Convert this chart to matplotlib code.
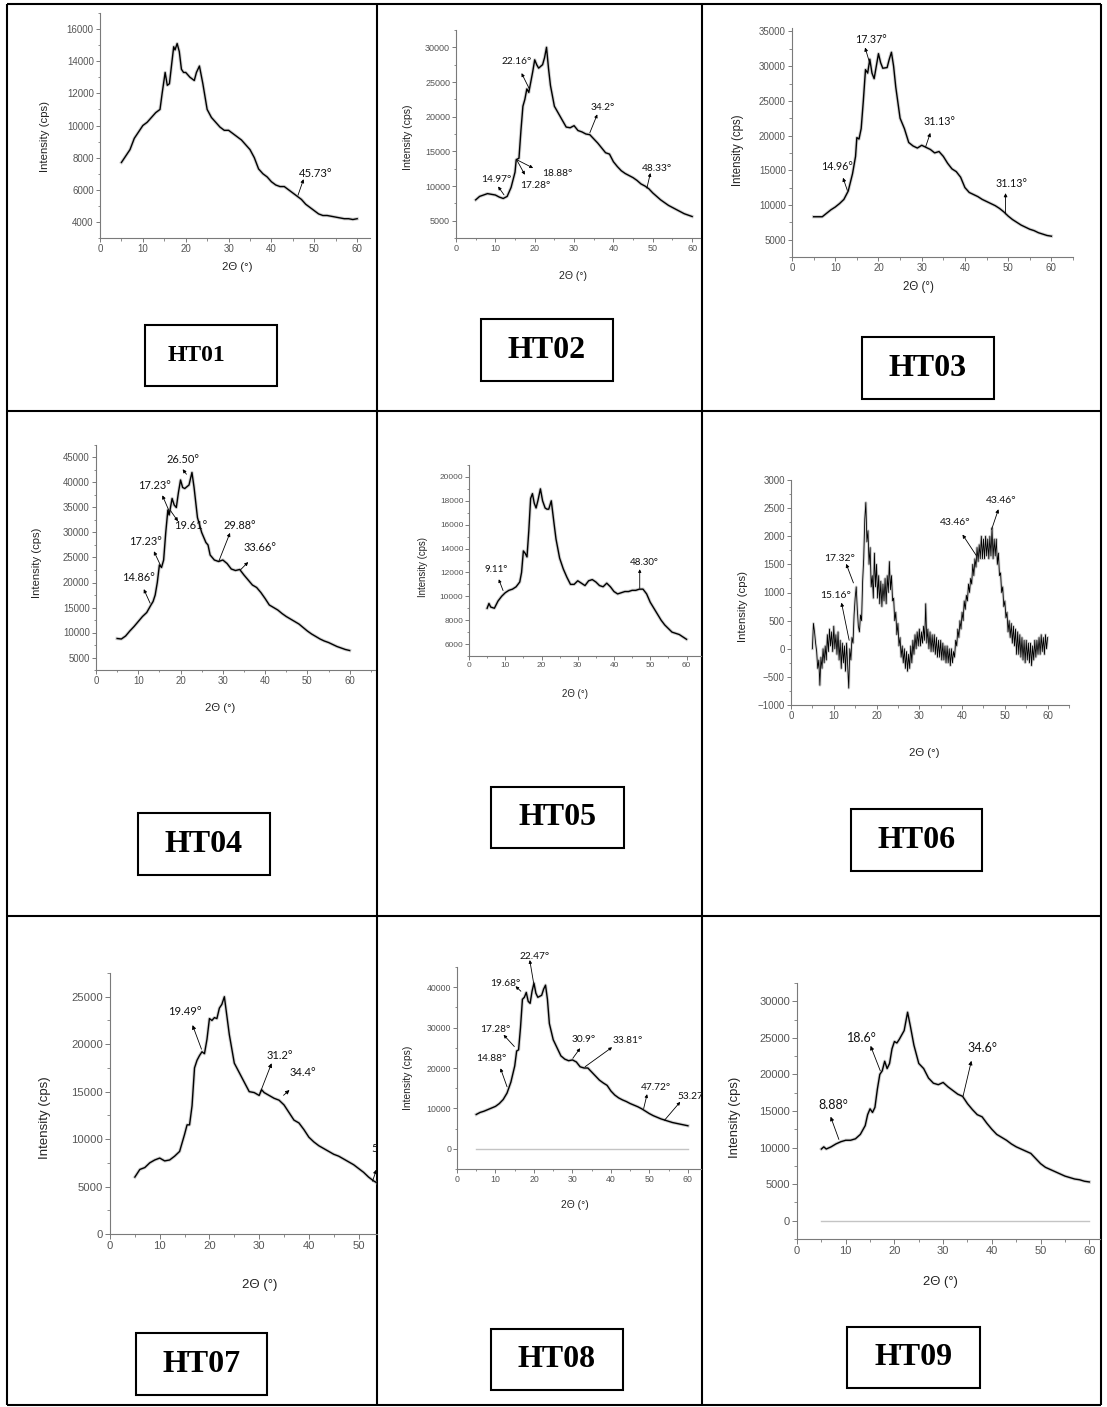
import numpy as np
import matplotlib
matplotlib.use("Agg")
import matplotlib.pyplot as plt
from matplotlib.ticker import MultipleLocator, ScalarFormatter
from matplotlib.patches import Rectangle
from matplotlib.transforms import Bbox, TransformedBbox

W, H = 1107, 1407

# ---- data: (2theta, intensity) ----
ht01 = [(5, 7700), (6, 8100), (7, 8500), (8, 9200), (9, 9600), (10, 10000), (11, 10200), (12, 10500),
        (13, 10800), (14, 11000), (14.5, 12000), (15.2, 13300), (15.7, 12500), (16.2, 12600), (16.8, 14000),
        (17.2, 14900), (17.5, 14700), (18, 15100), (18.5, 14600), (19, 13500), (19.5, 13300), (20, 13300),
        (21, 13000), (22, 12800), (22.5, 13300), (23.2, 13700), (24, 12600), (25, 11000), (26, 10500),
        (27, 10200), (28, 9900), (29, 9700), (30, 9700), (31, 9500), (32, 9300), (33, 9100), (34, 8800),
        (35, 8500), (36, 8000), (37, 7300), (38, 7000), (39, 6800), (40, 6500), (41, 6300), (42, 6200),
        (43, 6200), (44, 6000), (45, 5800), (46, 5600), (47, 5400), (48, 5100), (49, 4900), (50, 4700),
        (51, 4500), (52, 4400), (53, 4400), (54, 4350), (55, 4300), (56, 4250), (57, 4200), (58, 4200),
        (59, 4150), (60, 4200)]
ht02 = [(5, 8000), (6, 8500), (7, 8700), (8, 8900), (9, 8800), (10, 8700), (11, 8400), (12, 8200),
        (13, 8500), (14, 9800), (15, 12000), (15.3, 13800), (16, 14000), (16.5, 18000), (17, 21500),
        (17.5, 22500), (18, 24000), (18.5, 23500), (19, 25000), (19.5, 26500), (20, 28200), (20.5, 27500),
        (21, 27000), (22, 27500), (22.5, 28500), (23, 30000), (23.5, 27000), (24, 24500), (25, 21500),
        (26, 20500), (27, 19500), (28, 18500), (29, 18400), (30, 18700), (31, 18000), (32, 17800),
        (33, 17500), (34, 17400), (35, 16800), (36, 16200), (37, 15500), (38, 14800), (39, 14600),
        (40, 13500), (41, 12800), (42, 12200), (43, 11800), (44, 11500), (45, 11200), (46, 10800),
        (47, 10300), (48, 10000), (49, 9600), (50, 9000), (51, 8500), (52, 8000), (53, 7600), (54, 7200),
        (55, 6900), (56, 6600), (57, 6300), (58, 6000), (59, 5800), (60, 5600)]
ht03 = [(5, 8300), (6, 8300), (7, 8300), (8, 8800), (9, 9300), (10, 9700), (11, 10200), (12, 10800),
        (13, 12000), (14, 14500), (14.7, 17000), (15, 19700), (15.5, 19500), (16, 21000), (16.5, 25000),
        (17, 29500), (17.5, 29000), (18, 31000), (18.5, 29000), (19, 28200), (19.5, 30000), (20, 31800),
        (20.5, 30500), (21, 29700), (22, 29800), (22.5, 31000), (23, 32000), (23.5, 30000), (24, 27000),
        (25, 22500), (26, 21000), (27, 19000), (28, 18500), (29, 18200), (30, 18600), (31, 18300),
        (32, 18000), (33, 17500), (34, 17700), (35, 17000), (36, 16000), (37, 15200), (38, 14800),
        (39, 14000), (40, 12500), (41, 11800), (42, 11500), (43, 11200), (44, 10800), (45, 10500),
        (46, 10200), (47, 9900), (48, 9500), (49, 9000), (50, 8400), (51, 7900), (52, 7500), (53, 7100),
        (54, 6800), (55, 6500), (56, 6300), (57, 6000), (58, 5800), (59, 5600), (60, 5500)]
ht04 = [(5, 8800), (6, 8700), (7, 9300), (8, 10300), (9, 11200), (10, 12200), (11, 13200), (12, 14000),
        (13, 15500), (13.5, 16200), (14, 17500), (14.5, 20000), (15, 23500), (15.5, 23000), (16, 24500),
        (16.5, 30000), (17, 34500), (17.3, 33500), (18, 36800), (18.5, 35500), (19, 35000), (19.5, 38000),
        (20, 40500), (20.5, 39000), (21, 38800), (22, 39500), (22.7, 42000), (23.2, 39000), (24, 33000),
        (25, 30000), (26, 28000), (26.5, 27500), (27, 25500), (28, 24500), (29, 24200), (30, 24500),
        (31, 23800), (32, 22700), (33, 22400), (34, 22600), (35, 21500), (36, 20500), (37, 19500),
        (38, 19000), (39, 18000), (40, 16800), (41, 15500), (42, 15000), (43, 14500), (44, 13800),
        (45, 13200), (46, 12700), (47, 12200), (48, 11700), (49, 11000), (50, 10300), (51, 9700),
        (52, 9200), (53, 8700), (54, 8300), (55, 8000), (56, 7600), (57, 7200), (58, 6900), (59, 6600),
        (60, 6400)]
ht05 = [(5, 9000), (5.5, 9400), (6, 9100), (7, 9000), (8, 9600), (9, 10000), (10, 10300), (11, 10500),
        (12, 10600), (13, 10800), (14, 11200), (14.5, 12000), (15, 13800), (15.5, 13600), (16, 13300),
        (16.5, 15500), (17, 18200), (17.5, 18600), (18, 17800), (18.5, 17400), (19, 18000), (19.7, 19000),
        (20.3, 18000), (21, 17400), (21.5, 17300), (22, 17300), (22.7, 18000), (23.5, 16000), (24, 14800),
        (25, 13200), (26, 12300), (27, 11600), (28, 11000), (29, 11000), (30, 11300), (31, 11100),
        (32, 10900), (33, 11300), (34, 11400), (35, 11200), (36, 10900), (37, 10800), (38, 11100),
        (39, 10800), (40, 10400), (41, 10200), (42, 10300), (43, 10400), (44, 10400), (45, 10500),
        (46, 10500), (47, 10600), (48, 10600), (49, 10200), (50, 9500), (51, 9000), (52, 8500),
        (53, 8000), (54, 7600), (55, 7300), (56, 7000), (57, 6900), (58, 6800), (59, 6600), (60, 6400)]
# HT06 is a noisy difference scan, read every 0.25 deg from 5 to 60 (one row = 5 deg)
ht06_y = [0, 450, 300, 100, -50, -350, -200, -650, -150, -350, 0, -250, 50, -200, 250, -50, 350, 50, 300, -50,
          400, 0, 250, -100, 300, -200, 150, -350, 100, -250, 50, -400, 100, -300, -700, 0, -200, 200, 100, 600,
          900, 1100, 700, 400, 300, 600, 500, 1200, 1600, 2300, 2600, 1900, 2100, 1500, 1800, 1100, 1300, 900, 1700, 1100,
          1500, 900, 1300, 800, 1200, 750, 1150, 850, 1250, 800, 1300, 1000, 1550, 1050, 1300, 850, 900, 500, 650, 250,
          450, 50, 200, -150, 50, -250, 0, -350, -50, -400, -100, -350, 50, -250, 150, -100, 250, 0, 300, 50,
          350, 50, 300, 100, 400, 150, 800, 100, 350, 0, 300, -50, 250, -50, 250, -100, 200, -150, 150, -150,
          150, -200, 100, -200, 50, -250, 50, -250, 0, -300, 0, -250, -50, -150, 150, 50, 350, 200, 500, 350,
          650, 500, 850, 700, 950, 850, 1150, 1000, 1250, 1150, 1500, 1300, 1600, 1450, 1800, 1550, 1850, 1600, 2000, 1600,
          1950, 1600, 2000, 1650, 1950, 1600, 2000, 1650, 2150, 1600, 1950, 1650, 1950, 1500, 1700, 1300, 1350, 1000, 1100, 750,
          850, 550, 650, 300, 500, 200, 450, 100, 400, 50, 350, -100, 300, -100, 250, -150, 200, -200, 150, -250,
          150, -200, 100, -250, 100, -300, 50, -200, 150, -150, 150, -100, 200, -100, 250, -50, 200, -100, 250, 0,
          200]
ht06 = list(zip(np.linspace(5, 60, len(ht06_y)), ht06_y))
ht07 = [(5, 6000), (6, 6800), (7, 7000), (8, 7500), (9, 7800), (10, 8000), (11, 7700), (12, 7800),
        (13, 8200), (14, 8700), (15, 10500), (15.5, 11500), (16, 11500), (16.5, 13500), (17, 17500),
        (17.5, 18300), (18, 18800), (18.5, 19200), (19, 19000), (19.5, 20500), (20, 22700), (20.5, 22500),
        (21, 22800), (21.5, 22700), (22, 23800), (22.5, 24200), (23, 25000), (23.5, 23000), (24, 21000),
        (25, 18000), (26, 17000), (27, 16000), (28, 15000), (29, 14900), (30, 14600), (30.5, 15200),
        (31, 14900), (32, 14600), (33, 14300), (34, 14100), (35, 13600), (36, 12800), (37, 12000),
        (38, 11700), (39, 11000), (40, 10200), (41, 9700), (42, 9300), (43, 9000), (44, 8700), (45, 8400),
        (46, 8200), (47, 7900), (48, 7600), (49, 7300), (50, 6900), (51, 6500), (52, 6000), (53, 5600),
        (54, 5300), (55, 5100), (56, 4900), (57, 4700), (58, 4500), (59, 4300), (60, 4200)]
ht08 = [(5, 8500), (6, 9000), (7, 9300), (8, 9700), (9, 10100), (10, 10500), (11, 11200), (12, 12200),
        (13, 13800), (14, 16500), (15, 20500), (15.5, 24200), (16, 24500), (16.5, 30000), (17, 37000),
        (17.5, 37500), (18, 38700), (18.5, 36500), (19, 36000), (19.5, 39000), (20, 41000), (20.5, 38500),
        (21, 37500), (22, 38000), (22.5, 39500), (23, 40500), (23.5, 37000), (24, 31000), (25, 27000),
        (26, 25000), (27, 23000), (28, 22200), (29, 21800), (30, 22000), (31, 21500), (32, 20300),
        (33, 20000), (34, 20000), (35, 19000), (36, 18000), (37, 17000), (38, 16300), (39, 15700),
        (40, 14300), (41, 13300), (42, 12600), (43, 12100), (44, 11700), (45, 11200), (46, 10800),
        (47, 10400), (48, 9900), (49, 9300), (50, 8700), (51, 8200), (52, 7800), (53, 7400), (54, 7100),
        (55, 6800), (56, 6500), (57, 6300), (58, 6100), (59, 5900), (60, 5700)]
ht09 = [(5, 9800), (5.5, 10100), (6, 9800), (7, 10100), (8, 10500), (9, 10800), (10, 11000), (11, 11000),
        (12, 11200), (13, 11800), (14, 13000), (14.5, 14500), (15, 15300), (15.5, 14800), (16, 15500),
        (16.5, 18000), (17, 20000), (17.5, 20500), (18, 21800), (18.5, 20800), (19, 21500), (19.5, 23500),
        (20, 24500), (20.5, 24300), (21, 24800), (22, 26000), (22.7, 28500), (23.3, 26500), (24, 24000),
        (25, 21500), (26, 20800), (27, 19500), (28, 18800), (29, 18600), (30, 18900), (31, 18300),
        (32, 17800), (33, 17300), (34, 17000), (35, 16000), (36, 15200), (37, 14500), (38, 14200),
        (39, 13300), (40, 12500), (41, 11800), (42, 11400), (43, 11000), (44, 10500), (45, 10100),
        (46, 9800), (47, 9500), (48, 9200), (49, 8500), (50, 7800), (51, 7300), (52, 7000), (53, 6700),
        (54, 6400), (55, 6100), (56, 5900), (57, 5700), (58, 5600), (59, 5400), (60, 5300)]

# peak labels: (text, text_x, text_y, arrow_from_x, arrow_from_y, arrow_to_x, arrow_to_y)
ht01_ann = [("45.73°", 46.4, 7000, 46.2, 5660, 47.5, 6660)]
ht02_ann = [("22.16°", 11.6, 27970, 18.6, 24050, 16.65, 26280),
            ("14.97°", 6.5, 11000, 12.2, 8720, 10.7, 9930),
            ("17.28°", 16.4, 10030, 15.4, 13800, 17.5, 11620),
            ("18.88°", 21.9, 11770, 15.4, 13800, 19.6, 12590),
            ("34.2°", 34.2, 21300, 34.0, 17670, 35.9, 20330),
            ("48.33°", 47.1, 12590, 48.5, 9690, 49.4, 11870)]
ht03_ann = [("17.37°", 14.6, 33890, 18.1, 30180, 16.9, 32690),
            ("14.96°", 6.7, 15560, 12.8, 12090, 11.8, 13920),
            ("31.13°", 30.5, 21980, 30.9, 18360, 32.0, 20380),
            ("31.13°", 47.1, 13150, 49.4, 8710, 49.4, 11700)]
ht04_ann = [("26.50°", 16.7, 44660, 21.4, 41650, 20.5, 42650),
            ("17.23°", 10.0, 39300, 17.3, 34280, 15.7, 37430),
            ("19.61°", 18.5, 31400, 17.6, 34400, 19.4, 32240),
            ("29.88°", 30.1, 31400, 29.1, 24360, 31.7, 29920),
            ("17.23°", 7.9, 28250, 15.3, 23360, 13.7, 26240),
            ("33.66°", 35.0, 26910, 34.2, 22550, 36.0, 24090),
            ("14.86°", 6.2, 21080, 12.8, 15860, 11.3, 18670)]
ht05_ann = [("9.11°", 4.3, 12270, 9.4, 10480, 8.2, 11430),
            ("48.30°", 44.5, 12860, 47.1, 10670, 47.1, 12270)]
ht06_ann = [("17.32°", 7.7, 1600, 14.6, 1170, 12.9, 1510),
            ("15.16°", 6.8, 940, 13.6, 150, 11.8, 820),
            ("43.46°", 34.8, 2240, 43.3, 1660, 40.1, 2030),
            ("43.46°", 45.5, 2640, 46.9, 2120, 48.5, 2480)]
ht07_ann = [("19.49°", 11.7, 23420, 18.4, 19470, 16.6, 22010),
            ("31.2°", 31.5, 18840, 30.2, 14890, 32.5, 17990),
            ("34.4°", 36.1, 17010, 34.9, 14610, 36.1, 15170),
            ("53.27°", 52.6, 9010, 52.8, 5560, 53.6, 6800)]
ht08_ann = [("22.47°", 16.3, 47720, 19.9, 41080, 18.9, 46720),
            ("19.68°", 8.7, 40910, 16.6, 39000, 15.2, 40250),
            ("17.28°", 6.1, 29630, 14.9, 25310, 12.1, 28220),
            ("14.88°", 4.9, 22410, 13.0, 15350, 11.3, 19920),
            ("30.9°", 29.7, 27140, 30.1, 22410, 32.0, 24900),
            ("33.81°", 40.4, 26800, 33.3, 20330, 40.3, 25140),
            ("47.72°", 47.8, 15190, 48.5, 9960, 49.4, 13530),
            ("53.27°", 57.3, 13030, 53.9, 7050, 58.0, 11620)]
ht09_ann = [("8.88°", 4.3, 15820, 8.6, 11110, 6.9, 14220),
            ("18.6°", 10.3, 24960, 17.1, 20490, 15.1, 23910),
            ("34.6°", 35.0, 23550, 34.1, 17060, 35.8, 21860)]

sample_names = ["HT01", "HT02", "HT03", "HT04", "HT05", "HT06", "HT07", "HT08", "HT09"]

# ---- layout (pixels, y measured from the top) ----
col_edges = [7, 377, 702, 1101]
row_edges = [4, 411, 916, 1405]
name_boxes = [(145, 325, 277, 386), (481, 319, 613, 381), (862, 337, 994, 399),
              (138, 813, 270, 875), (491, 787, 624, 848), (851, 809, 982, 871),
              (136, 1333, 267, 1395), (491, 1329, 623, 1390), (847, 1327, 980, 1388)]

panels = [
    dict(data=ht01, ann=ht01_ann, box=(100, 13, 370, 238), xmax=63, ylim=(3000, 17000), ystep=2000,
         s=1.0, asz=8.2, ylab=(45, 136), xlab=(237, 267), cell_right=377, base=False),
    dict(data=ht02, ann=ht02_ann, box=(456, 30, 700, 238), xmax=62, ylim=(2500, 32500), ystep=5000,
         s=0.92, asz=7.3, ylab=(408, 137), xlab=(573, 276), cell_right=702, base=False),
    dict(data=ht03, ann=ht03_ann, box=(792, 28, 1073, 257), xmax=65, ylim=(2500, 35500), ystep=5000,
         s=1.01, asz=7.7, ylab=(738, 150), xlab=(918, 287), cell_right=1101, base=False),
    dict(data=ht04, ann=ht04_ann, box=(96, 445, 375, 670), xmax=66, ylim=(2500, 47500), ystep=5000,
         s=0.99, asz=7.9, ylab=(37, 563), xlab=(220, 708), cell_right=377, base=False),
    dict(data=ht05, ann=ht05_ann, box=(469, 465, 701, 656), xmax=64, ylim=(5000, 21000), ystep=2000,
         s=0.85, asz=7.0, ylab=(423, 567), xlab=(575, 694), cell_right=702, base=False),
    dict(data=ht06, ann=ht06_ann, box=(791, 480, 1069, 705), xmax=65, ylim=(-1000, 3000), ystep=500,
         s=1.0, asz=7.5, ylab=(743, 607), xlab=(924, 753), cell_right=1101, base=False, lw=0.6),
    dict(data=ht07, ann=ht07_ann, box=(110, 973, 377, 1234), xmax=53.7, ylim=(0, 27500), ystep=5000,
         s=1.16, asz=8.0, ylab=(45, 1118), xlab=(260, 1285), cell_right=377, base=False),
    dict(data=ht08, ann=ht08_ann, box=(457, 967, 701, 1169), xmax=63.4, ylim=(-5000, 45000), ystep=10000,
         s=0.9, asz=7.3, ylab=(408, 1078), xlab=(575, 1205), cell_right=702, base=True),
    dict(data=ht09, ann=ht09_ann, box=(797, 983, 1100, 1239), xmax=62.2, ylim=(-2500, 32500), ystep=5000,
         s=1.14, asz=9.0, ylab=(735, 1117), xlab=(940, 1282), cell_right=1101, base=True),
]

TICK_FONT = "Liberation Sans"
NOTE_FONT = "Lato"

fig = plt.figure(figsize=(W / 100, H / 100), dpi=100)
fig.patch.set_facecolor("white")

# table grid + sample name boxes on a full-figure pixel canvas
bg = fig.add_axes([0, 0, 1, 1])
bg.set_xlim(0, W)
bg.set_ylim(H, 0)
bg.axis("off")
bg.vlines(col_edges, row_edges[0], row_edges[-1], color="black", lw=1.5)
bg.hlines(row_edges, col_edges[0], col_edges[-1], color="black", lw=1.5)
for i, (name, (l, t, r, b)) in enumerate(zip(sample_names, name_boxes)):
    bg.add_patch(Rectangle((l, t), r - l, b - t, fill=False, ec="black", lw=1.5))
    cx = (l + r) / 2 if i > 0 else 196
    bg.text(cx, (t + b) / 2, name, ha="center", va="center", family="Liberation Serif",
            weight="bold", fontsize=17 if i == 0 else 23, color="black")

for p in panels:
    l, t, r, b = p["box"]
    s = p["s"]
    ax = fig.add_axes([l / W, 1 - b / H, (r - l) / W, (b - t) / H])
    ax.patch.set_visible(False)
    xs, ys = zip(*p["data"])
    lw = p.get("lw", 1.0)
    ax.plot(xs, ys, color="#9a9a9a", lw=lw + 1.4, alpha=0.45, solid_joinstyle="round")
    ax.plot(xs, ys, color="black", lw=lw)
    if p["base"]:
        ax.plot([xs[0], xs[-1]], [0, 0], color="#c4c4c4", lw=1.0)

    ax.set_xlim(0, p["xmax"])
    ax.set_ylim(*p["ylim"])
    ax.xaxis.set_major_locator(MultipleLocator(10))
    ax.xaxis.set_minor_locator(MultipleLocator(5))
    ax.yaxis.set_major_locator(MultipleLocator(p["ystep"]))
    ax.yaxis.set_minor_locator(MultipleLocator(p["ystep"] / 2))
    fmt = ScalarFormatter(useOffset=False)
    fmt.set_scientific(False)
    ax.yaxis.set_major_formatter(fmt)
    for side in ("top", "right"):
        ax.spines[side].set_visible(False)
    for side in ("left", "bottom"):
        ax.spines[side].set_color("#7a7a7a")
        ax.spines[side].set_linewidth(0.8)
    ax.tick_params(which="major", direction="out", length=3 * s, width=0.7, color="#7a7a7a",
                   labelsize=7.0 * s, labelcolor="#555555", pad=1.5)
    ax.tick_params(which="minor", direction="out", length=1.8 * s, width=0.6, color="#7a7a7a")
    for lab in ax.get_xticklabels() + ax.get_yticklabels():
        lab.set_family(TICK_FONT)

    ax.set_ylabel("Intensity (cps)", family=TICK_FONT, fontsize=8.2 * s, color="#222222")
    ax.set_xlabel("2Θ (°)", family=TICK_FONT, fontsize=8.2 * s, color="#222222")
    ax.yaxis.set_label_coords((p["ylab"][0] - l) / (r - l), (b - p["ylab"][1]) / (b - t))
    ax.xaxis.set_label_coords((p["xlab"][0] - l) / (r - l), (b - p["xlab"][1]) / (b - t))
    ax.yaxis.label.set_va("center")
    ax.xaxis.label.set_va("center")

    clip = TransformedBbox(Bbox.from_extents(0, 0, p["cell_right"] / W, 1), fig.transFigure)
    for label, tx, ty, x0, y0, x1, y1 in p["ann"]:
        ax.annotate("", xy=(x1, y1), xytext=(x0, y0), annotation_clip=False,
                    arrowprops=dict(arrowstyle="-|>", color="black", lw=0.6,
                                    mutation_scale=5 * s, shrinkA=0, shrinkB=0))
        txt = ax.text(tx, ty, label, ha="left", va="center", family=NOTE_FONT,
                      fontsize=p["asz"], color="#111111")
        txt.set_clip_on(True)
        txt.set_clip_box(clip)

fig.savefig("out.png", dpi=100)
